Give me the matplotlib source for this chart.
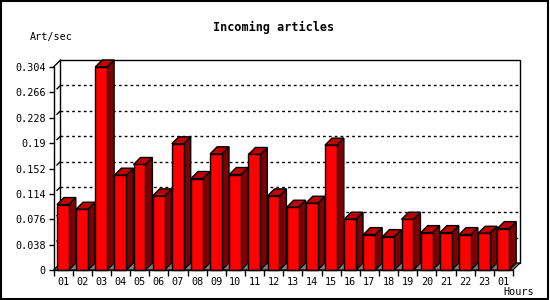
import matplotlib
matplotlib.use("Agg")
import matplotlib.pyplot as plt
from matplotlib.patches import Polygon, Rectangle
import numpy as np

# ---- data ----
hours = ["01", "02", "03", "04", "05", "06", "07", "08", "09", "10", "11", "12",
         "13", "14", "15", "16", "17", "18", "19", "20", "21", "22", "23", "01"]
art_per_sec = [0.098, 0.091, 0.304, 0.142, 0.158, 0.111, 0.189, 0.137, 0.174, 0.143,
               0.173, 0.111, 0.094, 0.100, 0.187, 0.076, 0.053, 0.050, 0.076, 0.056,
               0.056, 0.053, 0.055, 0.062]
y_ticks = [0, 0.038, 0.076, 0.114, 0.152, 0.19, 0.228, 0.266, 0.304]
y_tick_labels = ["0", "0.038", "0.076", "0.114", "0.152", "0.19", "0.228", "0.266", "0.304"]
title = "Incoming articles"
y_title = "Art/sec"
x_title = "Hours"

W, H = 550, 300
fig = plt.figure(figsize=(W / 100, H / 100), dpi=100)
fig.patch.set_facecolor("white")

# front plane of the 3D plot (pixels measured from reference)
left, right, top, bottom = 53.5, 513, 67, 270
ax = fig.add_axes([left / W, 1 - bottom / H, (right - left) / W, (bottom - top) / H])
n = len(hours)
ax.set_xlim(0, n)
ax.set_ylim(0, y_ticks[-1])
ax.set_facecolor("none")
for s in ["top", "right"]:
    ax.spines[s].set_visible(False)
for s in ["left", "bottom"]:
    ax.spines[s].set_linewidth(1.0)
    ax.spines[s].set_zorder(6)

mono = "DejaVu Sans Mono"
ax.set_yticks(y_ticks)
ax.set_yticklabels(y_tick_labels, family=mono, fontsize=7.3)
ax.set_xticks(np.arange(n) + 0.5)
ax.set_xticklabels(hours, family=mono, fontsize=7.3)
ax.tick_params(axis="x", length=0, pad=5)
ax.tick_params(axis="y", length=3.5, width=1, pad=2)
# category boundary ticks
ax.set_xticks(np.arange(n + 1), minor=True)
ax.tick_params(axis="x", which="minor", length=4, width=1)

# depth offset in data units (7 pixels right and up)
depth_px = 7
p0 = ax.transData.transform((0, 0))
d = ax.transData.inverted().transform(p0 + np.array([depth_px, depth_px]))
dx, dy = d[0], d[1]
ymax = y_ticks[-1]

# back wall
ax.add_patch(Rectangle((dx, dy), n, ymax, facecolor="white", edgecolor="black",
                       linewidth=1.0, clip_on=False, zorder=0))
# floor
ax.add_patch(Polygon([(0, 0), (n, 0), (n + dx, dy), (dx, dy)], closed=True,
                     facecolor="#808080", edgecolor="black", linewidth=0.8,
                     clip_on=False, zorder=1))
# gridlines on the back wall
for t in y_ticks[1:-1]:
    ax.plot([dx, n + dx], [t + dy, t + dy], color="black", lw=1.0,
            dashes=(2, 2.2), clip_on=False, zorder=1)
# diagonal connectors at left
ax.plot([0, dx], [ymax, ymax + dy], color="black", lw=1.0, clip_on=False, zorder=1)
for t in y_ticks[1:-1]:
    ax.plot([0.5 * dx, 0.9 * dx], [t + 0.5 * dy, t + 0.9 * dy], color="black",
            lw=1.0, clip_on=False, zorder=1)

# bars
front_c, side_c, top_c = "#ff0000", "#800000", "#c00000"
x0_off, bw = 0.18, 0.62
for i, v in enumerate(art_per_sec):
    x1 = i + x0_off
    x2 = x1 + bw
    z = 3 + i * 0.001
    ax.add_patch(Polygon([(x2, 0), (x2 + dx, dy), (x2 + dx, v + dy), (x2, v)],
                         closed=True, facecolor=side_c, edgecolor="black",
                         linewidth=1.0, clip_on=False, zorder=z))
    ax.add_patch(Polygon([(x1, v), (x2, v), (x2 + dx, v + dy), (x1 + dx, v + dy)],
                         closed=True, facecolor=top_c, edgecolor="black",
                         linewidth=1.0, clip_on=False, zorder=z))
    ax.add_patch(Rectangle((x1, 0), bw, v, facecolor=front_c, edgecolor="black",
                           linewidth=1.0, clip_on=False, zorder=z + 0.0005))

# texts
fig.text(274 / W, 1 - 27 / H, title, family=mono, weight="bold", fontsize=8.5,
         ha="center", va="center")
fig.text(30 / W, 1 - 37 / H, y_title, family=mono, fontsize=7.3, ha="left", va="center")
fig.text(534 / W, 1 - 292 / H, x_title, family=mono, fontsize=7.3, ha="right", va="center")

# outer border
fig.add_artist(Rectangle((0.5 / W, 1.5 / H), 547 / W, 297.5 / H, transform=fig.transFigure,
                         facecolor="none", edgecolor="black", linewidth=1.5))

fig.savefig("out.png", dpi=100, facecolor="white")
